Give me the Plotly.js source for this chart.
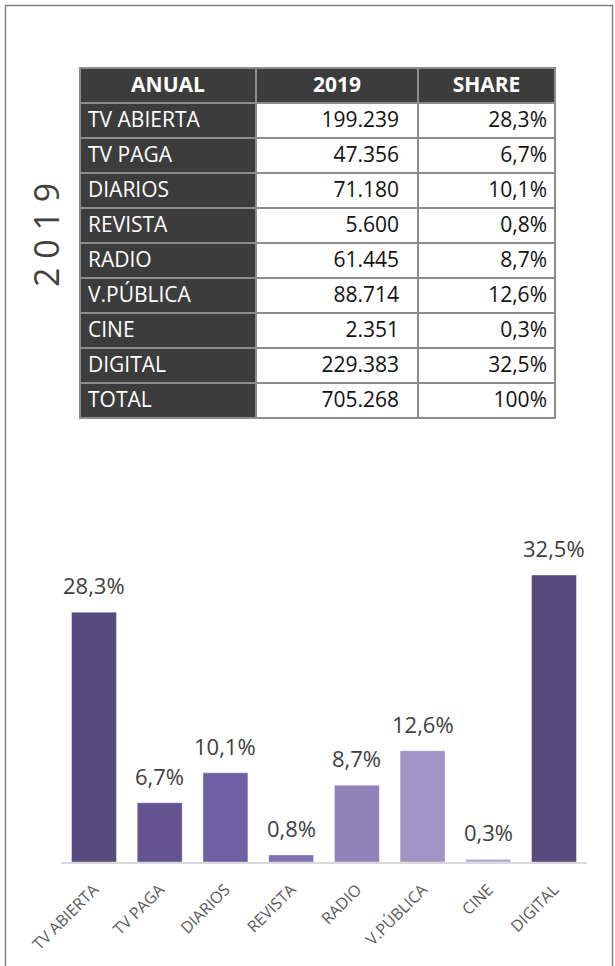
<!DOCTYPE html>
<html>
<head>
<meta charset="utf-8">
<script src="https://cdn.plot.ly/plotly-3.0.1.min.js"></script>
<style>html,body{margin:0;padding:0;background:#fff;}#chart{width:615px;height:966px;}</style>
</head>
<body>
<div id="chart"></div>
<script>
const categories = ['TV ABIERTA','TV PAGA','DIARIOS','REVISTA','RADIO','V.PÚBLICA','CINE','DIGITAL'];
const investment2019 = [199239, 47356, 71180, 5600, 61445, 88714, 2351, 229383];
const totalInvestment = 705268;
const sharePct = [28.3, 6.7, 10.1, 0.8, 8.7, 12.6, 0.3, 32.5];
const tableHeader = ['ANUAL', '2019', 'SHARE'];
const totalLabel = 'TOTAL';
const totalShare = '100%';
const yearLabel = '2019';
const barColors = ['#574a7f','#635393','#6f5fa3','#7f70b0','#9083ba','#a094c4','#b2a9d3','#574a7f'];

const W = 615, H = 966;
const px = v => v / W;
const py = v => (H - v) / H;

function fmtThousands(n){ return String(n).replace(/\B(?=(\d{3})+(?!\d))/g, '.'); }
function fmtPct(v){ return v.toFixed(1).replace('.', ',') + '%'; }

const col1 = categories.concat([totalLabel]);
const col2 = investment2019.map(fmtThousands).concat([fmtThousands(totalInvestment)]).map(s => s + '\u00a0\u00a0');
const col3 = sharePct.map(fmtPct).concat([totalShare]);

const FONT = '"Open Sans", "Noto Sans", sans-serif';

const table = {
  type: 'table',
  domain: {x: [px(80), px(555)], y: [py(445), py(68)]},
  columnwidth: [176, 162, 137],
  header: {
    values: tableHeader,
    fill: {color: '#3c3c3c'},
    line: {color: '#8c8c8c', width: 2},
    font: {family: FONT, size: 21, color: '#ffffff', weight: 'bold'},
    align: 'center',
    height: 35
  },
  cells: {
    values: [col1, col2, col3],
    fill: {color: ['#3c3c3c', '#ffffff', '#ffffff']},
    line: {color: '#8c8c8c', width: 2},
    font: {family: FONT, size: 21, color: ['#ffffff', '#111111', '#111111']},
    align: ['left', 'right', 'right'],
    height: 35
  }
};

const bars = {
  type: 'bar',
  x: categories,
  y: sharePct,
  marker: {color: barColors, line: {color: 'rgba(255,255,255,0.35)', width: 1}},
  hoverinfo: 'skip',
  xaxis: 'x', yaxis: 'y'
};

const annotations = categories.map((c, i) => ({
  x: c, y: sharePct[i], xref: 'x', yref: 'y',
  text: fmtPct(sharePct[i]),
  showarrow: false, yanchor: 'bottom', yshift: 10,
  font: {family: FONT, size: 22, color: '#404040'}
}));

annotations.push({
  x: px(46), y: py(235), xref: 'paper', yref: 'paper',
  text: yearLabel.split('').join(' '),
  textangle: -90, showarrow: false,
  xanchor: 'center', yanchor: 'middle',
  font: {family: FONT, size: 34, color: '#404040'}
});

const layout = {
  width: W, height: H,
  margin: {l: 0, r: 0, t: 0, b: 0},
  paper_bgcolor: '#ffffff', plot_bgcolor: '#ffffff',
  showlegend: false,
  bargap: 0.317,
  xaxis: {
    domain: [px(61), px(587)],
    automargin: false,
    showline: true, linecolor: '#d9d9d9', linewidth: 2,
    ticks: '', tickangle: -45,
    ticklabelstandoff: 10,
    tickfont: {family: FONT, size: 16, color: '#595959'},
    showgrid: false, zeroline: false, fixedrange: true
  },
  yaxis: {
    domain: [py(862), py(540)],
    range: [0, 36.47],
    automargin: false,
    visible: false, showgrid: false, zeroline: false, fixedrange: true
  },
  annotations: annotations,
  shapes: [{
    type: 'rect', xref: 'paper', yref: 'paper',
    x0: px(5.5), x1: px(612.5), y0: -0.02, y1: py(5.5),
    line: {color: '#7f7f7f', width: 1.5}, fillcolor: 'rgba(0,0,0,0)'
  }]
};

Plotly.newPlot('chart', [table, bars], layout, {displayModeBar: false, staticPlot: true});
</script>
</body>
</html>
